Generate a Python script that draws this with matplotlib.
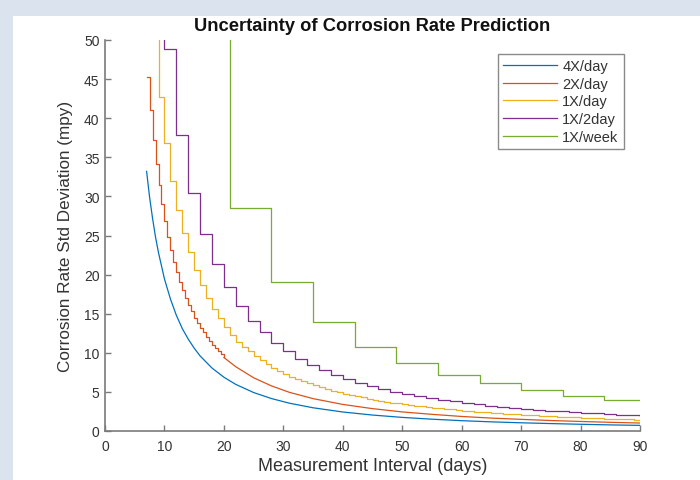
import numpy as np
import matplotlib.pyplot as plt
from matplotlib.patches import Rectangle

plt.rcParams['font.family'] = ['Liberation Sans', 'DejaVu Sans']

# ---- data (std deviation in mpy vs interval in days) ----
# 4X/day: effectively smooth
days_4x = [7, 7.5, 8, 8.5, 9, 10, 11, 12, 13, 14, 15, 16, 18, 20, 22, 25, 28, 31,
           35, 40, 45, 50, 55, 60, 65, 70, 75, 80, 85, 90]
std_4x = [33.2, 29.9, 27.2, 24.8, 22.8, 19.45, 16.9, 14.8, 13.1, 11.75, 10.6, 9.6,
          8.05, 6.88, 5.96, 4.92, 4.15, 3.56, 2.97, 2.43, 2.04, 1.74, 1.51, 1.32,
          1.17, 1.05, 0.95, 0.86, 0.78, 0.72]

# 2X/day: half-day stairs at the start, smooth afterwards
days_2x_steps = np.arange(7, 20.01, 0.5)
std_2x_steps = [45.3, 41.0, 37.2, 34.1, 31.5, 29.0, 26.8, 24.8, 23.1, 21.6, 20.3,
                19.1, 18.0, 17.0, 16.1, 15.3, 14.5, 13.8, 13.2, 12.6, 12.0, 11.5,
                11.0, 10.6, 10.2, 9.8, 9.4]
days_2x_tail = [20, 22, 25, 28, 31, 35, 40, 45, 50, 55, 60, 65, 70, 75, 80, 85, 90]
std_2x_tail = [9.4, 8.22, 6.81, 5.77, 4.95, 4.14, 3.40, 2.86, 2.44, 2.13, 1.86,
               1.65, 1.49, 1.34, 1.22, 1.11, 1.02]

# 1X/day: one step per day
days_1x = np.arange(7, 91)
std_1x = [64.0, 52.5, 42.7, 36.8, 32.0, 28.2, 25.3, 22.85, 20.6, 18.7, 17.0, 15.6,
          14.4, 13.3, 12.3, 11.4, 10.8, 10.2, 9.6, 9.05, 8.55, 8.09, 7.68, 7.30,
          6.95, 6.66, 6.36, 6.08, 5.82, 5.61, 5.38, 5.17, 4.97, 4.79, 4.62, 4.45,
          4.30, 4.15, 4.01, 3.88, 3.76, 3.64, 3.53, 3.43, 3.33, 3.23, 3.14, 3.05,
          2.97, 2.91, 2.83, 2.76, 2.69, 2.62, 2.56, 2.49, 2.44, 2.38, 2.32, 2.27,
          2.22, 2.17, 2.12, 2.08, 2.04, 1.99, 1.95, 1.91, 1.88, 1.84, 1.80, 1.77,
          1.73, 1.70, 1.67, 1.64, 1.61, 1.58, 1.55, 1.53, 1.50, 1.48, 1.45, 1.43]

# 1X/2day: one step every two days
days_2d = [7, 8] + list(range(10, 91, 2))
std_2d = [95, 68, 48.8, 37.9, 30.4, 25.2, 21.4, 18.4, 15.95, 14.1, 12.6, 11.3,
          10.2, 9.25, 8.45, 7.75, 7.15, 6.62, 6.15, 5.73, 5.36, 5.03, 4.73, 4.46,
          4.21, 3.98, 3.78, 3.59, 3.42, 3.26, 3.11, 2.98, 2.85, 2.73, 2.62, 2.52,
          2.43, 2.34, 2.25, 2.17, 2.10, 2.03, 1.97]

# 1X/week: one step every seven days
days_wk = [7, 14, 21, 28, 35, 42, 49, 56, 63, 70, 77, 84, 90]
std_wk = [150, 58, 28.5, 19.0, 13.9, 10.8, 8.65, 7.16, 6.1, 5.24, 4.52, 4.0, 4.0]

colors = ['#0072BD', '#D95319', '#EDB120', '#7E2F8E', '#77AC30']
lw = 0.9

fig = plt.figure(figsize=(7.0, 4.81), dpi=100, facecolor='#dae3ee')
# white panel inside the light blue window frame
fig.add_artist(Rectangle((13 / 700, 0), 1, 1 - 17 / 481, transform=fig.transFigure,
                         facecolor='white', edgecolor='none', zorder=-10))
ax = fig.add_axes([105 / 700, 49 / 481, 535 / 700, 391 / 481])
ax.set_facecolor('white')

ax.plot(days_4x, std_4x, color=colors[0], lw=lw, label='4X/day')
ax.plot(days_2x_steps, std_2x_steps, color=colors[1], lw=lw, drawstyle='steps-post',
        label='2X/day')
ax.plot(days_2x_tail, std_2x_tail, color=colors[1], lw=lw)
ax.plot(days_1x, std_1x, color=colors[2], lw=lw, drawstyle='steps-post', label='1X/day')
ax.plot(days_2d, std_2d, color=colors[3], lw=lw, drawstyle='steps-post', label='1X/2day')
ax.plot(days_wk, std_wk, color=colors[4], lw=lw, drawstyle='steps-post', label='1X/week')

ax.set_xlim(0, 90)
ax.set_ylim(0, 50)
ax.set_xticks(range(0, 91, 10))
ax.set_yticks(range(0, 51, 5))

axis_gray = '#7a7a7a'
for side in ['top', 'right']:
    ax.spines[side].set_visible(False)
for side in ['left', 'bottom']:
    ax.spines[side].set_color(axis_gray)
    ax.spines[side].set_linewidth(1.2)
ax.tick_params(direction='in', length=4, width=1, color=axis_gray,
               labelcolor='#333333', labelsize=10)
ax.tick_params(axis='x', pad=6)
ax.tick_params(axis='y', pad=4)

ax.set_title('Uncertainty of Corrosion Rate Prediction', fontsize=13.2, fontweight='bold',
             color='#111111', pad=7)
ax.set_xlabel('Measurement Interval (days)', fontsize=13, color='#333333', labelpad=3)
ax.set_ylabel('Corrosion Rate Std Deviation (mpy)', fontsize=12.3, color='#333333',
              labelpad=8)

leg = ax.legend(loc='upper left', bbox_to_anchor=(498 / 700, 1 - 55 / 481),
                bbox_transform=fig.transFigure, borderaxespad=0, fancybox=False,
                framealpha=1, edgecolor='#8a8a8a', fontsize=10.5, handlelength=3.7,
                handletextpad=0.35, labelspacing=0.25, borderpad=0.35)
leg.get_frame().set_linewidth(1.0)
for t in leg.get_texts():
    t.set_color('#333333')

fig.savefig('out.png', dpi=100, facecolor=fig.get_facecolor())
